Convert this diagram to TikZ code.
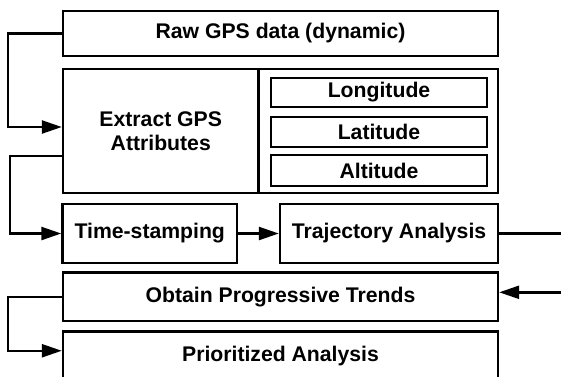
\documentclass[tikz,border=0pt]{standalone}
\usepackage{fontspec}
\setmainfont{Liberation Sans}
\usetikzlibrary{arrows.meta}
\begin{document}
\begin{tikzpicture}[x=1pt,y=-1pt,
  box/.style={draw,line width=2.4pt,rectangle,inner sep=0pt,align=center,
    font=\bfseries\fontsize{21.2}{23.5}\selectfont},
  link/.style={line width=2.4pt},
  arr/.style={link,-{Triangle[length=20pt,width=13pt]}}]
\useasboundingbox (0,0) rectangle (561,376);

% top row and attribute block
\node[box,minimum width=435pt,minimum height=45pt] (raw) at (280.5,33.5) {Raw GPS data (dynamic)};
\node[box,minimum width=195.5pt,minimum height=124pt] (extract) at (160.75,131) {Extract GPS\\Attributes};
\node[box,minimum width=239.5pt,minimum height=124pt] (attrs) at (378.25,131) {};
\node[box,minimum width=216pt,minimum height=29pt] (lon) at (379,92.5) {Longitude};
\node[box,minimum width=216pt,minimum height=30pt] (lat) at (379,132) {Latitude};
\node[box,minimum width=216pt,minimum height=31pt] (alt) at (379,170.5) {Altitude};

% processing row
\node[box,minimum width=174.5pt,minimum height=59pt] (time) at (149.75,233.5) {Time-stamping};
\node[box,minimum width=218pt,minimum height=59pt] (traj) at (389,233.5) {Trajectory Analysis};

% trend and result
\node[box,minimum width=435pt,minimum height=48.5pt] (trend) at (280.5,296.75) {Obtain Progressive Trends};
\node[box,minimum width=435pt,minimum height=48.5pt] (prior) at (280.5,355.75) {Prioritized Analysis};

% free ends on the right
\coordinate (outR) at (561,233.5);
\coordinate (inR) at (561,292.3);

% connectors
\draw[arr] (raw.west) -| (8,90) |- ([yshift=4pt]extract.west);
\draw[arr] ([yshift=-25pt]extract.west) -| (10,200) |- (time.west);
\draw[arr] (time.east) -- (traj.west);
\draw[link] (traj.east) -- (outR);
\draw[arr] (inR) -- (inR -| trend.east);
\draw[arr] (trend.west) -| (8,320) |- ([yshift=5pt]prior.west);
\end{tikzpicture}
\end{document}
